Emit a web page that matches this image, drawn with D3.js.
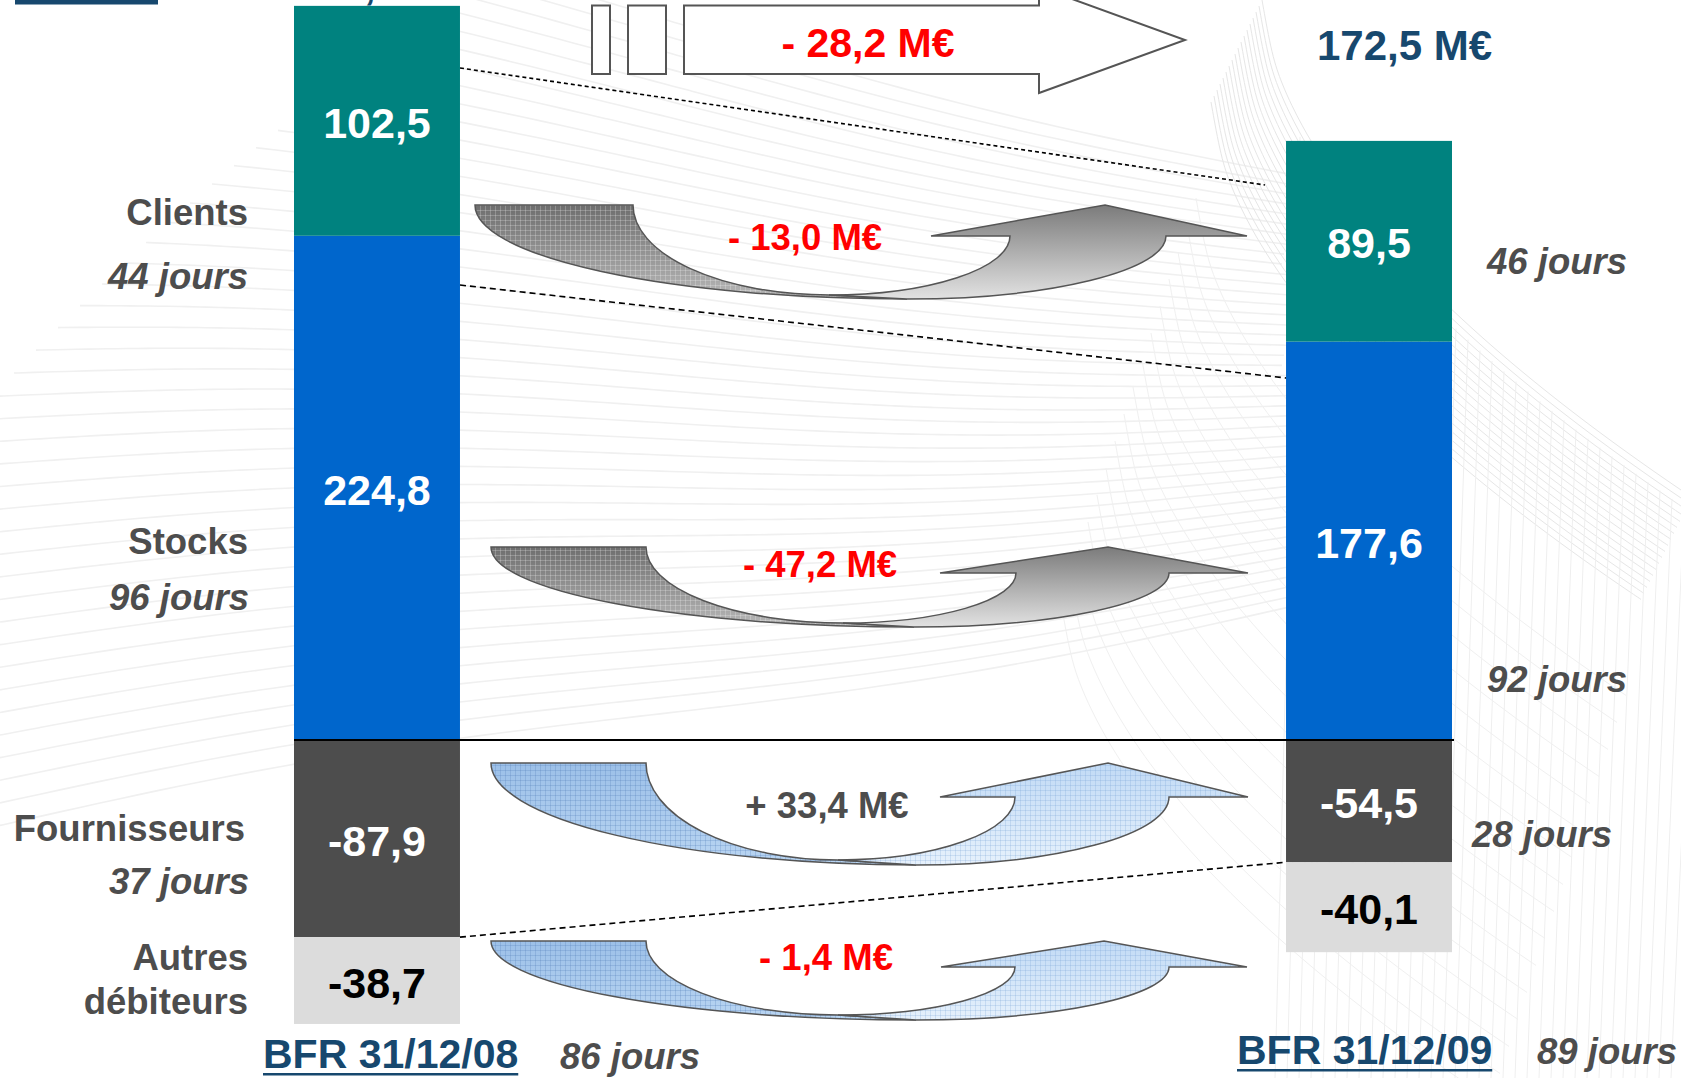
<!DOCTYPE html>
<html>
<head>
<meta charset="utf-8">
<script src="https://cdn.jsdelivr.net/npm/d3@7"></script>
<style>
  body { margin: 0; background: #fff; }
  svg { display: block; font-family: "Liberation Sans", Arial, Helvetica, sans-serif; font-weight: bold; }
</style>
</head>
<body>
<script>
// ---- data ----
const periods = ["31/12/08", "31/12/09"];
const categories = ["Clients", "Stocks", "Fournisseurs", "Autres débiteurs"];
const values08 = [102.5, 224.8, -87.9, -38.7];
const values09 = [89.5, 177.6, -54.5, -40.1];
const days08 = ["44 jours", "96 jours", "37 jours", null];
const days09 = ["46 jours", "92 jours", "28 jours", null];
const deltaLabels = ["- 13,0 M€", "- 47,2 M€", "+ 33,4 M€", "- 1,4 M€"];
const totals = [200.7, 172.5];
const totalDays = ["86 jours", "89 jours"];
const totalDelta = "- 28,2 M€";

const colors = { "Clients": "#00827f", "Stocks": "#0066cc", "Fournisseurs": "#4d4d4d", "Autres débiteurs": "#dcdcdc" };
const labelColors = { "Clients": "#fff", "Stocks": "#fff", "Fournisseurs": "#fff", "Autres débiteurs": "#000" };
const navy = "#17486e", grayText = "#4d4d4d", red = "#ff0000";

const fr = d3.formatLocale({ decimal: ",", thousands: " ", grouping: [3], currency: ["", " M€"], minus: "-" });
const fmt = fr.format(".1f");

const W = 1681, H = 1078;
const svg = d3.select("body").append("svg").attr("width", W).attr("height", H);
const defs = svg.append("defs");

// ---- scales ----
const x = d3.scaleBand().domain(periods).range([294, 1452]).paddingInner(0.8327).paddingOuter(0);
const y = d3.scaleLinear().domain([0, 100]).range([740, 515.7]);

const rows = periods.map((p, i) => {
  const r = { period: p };
  categories.forEach((c, j) => r[c] = (i === 0 ? values08 : values09)[j]);
  return r;
});
const stackKeys = ["Stocks", "Clients", "Fournisseurs", "Autres débiteurs"];
const series = d3.stack().keys(stackKeys).offset(d3.stackOffsetDiverging)(rows);

// ---- background swoosh ----
const bg = svg.append("g").attr("fill", "none");
const line = d3.line().curve(d3.curveBasis);
const fanN = 44;
for (let i = 0; i < fanN; i++) {
  const yL = -150 + i * (980 / (fanN - 1));
  const yR = 180 + i * (420 / (fanN - 1));
  const xs = Math.max(0, 520 - i * 22);
  const pts = d3.range(xs, 1301, 20).map(px => {
    const t = (px + 20) / 1340;
    return [px, yL + (yR - yL) * t - 12 * Math.sin(Math.PI * t * 2)];
  });
  bg.append("path").attr("d", line(pts)).attr("stroke", "#f0f0f0").attr("stroke-width", 1.6);
}
const bnd = px => px <= 1262 ? 0 : 490 * Math.pow((px - 1262) / 419, 0.58);
for (let j = 0; j < 18; j++) {
  const pts = d3.range(1262, 1700, 10).map(px => [px - 3 * j, bnd(px) + 6 * j]);
  bg.append("path").attr("d", line(pts)).attr("stroke", "#e6e6e6").attr("stroke-width", 1);
}
for (let j = 22; j < 70; j += 3) {
  const pts = d3.range(1262, 1700, 10).map(px => [px - 3 * j, bnd(px) + 9 * j]);
  bg.append("path").attr("d", line(pts)).attr("stroke", "#f0f0f0").attr("stroke-width", 1);
}
for (let px = 1300; px < 1700; px += 12) {
  bg.append("path").attr("d", `M${px},${bnd(px) + 15} L${px - 25},${H}`).attr("stroke", "#efefef").attr("stroke-width", 1);
}

// ---- top-left decoration & hidden total ----
svg.append("rect").attr("x", 15).attr("y", 0).attr("width", 143).attr("height", 4.5).attr("fill", navy);
svg.append("text").attr("x", x(periods[0])).attr("y", -1.5).attr("font-size", 42).attr("fill", navy)
  .text(fmt(totals[0]) + " M€");

// ---- gradients & patterns for curved arrows ----
function vGrad(id, c0, c1) {
  const g = defs.append("linearGradient").attr("id", id).attr("x1", 0).attr("y1", 0).attr("x2", 0).attr("y2", 1);
  g.append("stop").attr("offset", "0%").attr("stop-color", c0);
  g.append("stop").attr("offset", "100%").attr("stop-color", c1);
}
function grid(id, color) {
  const p = defs.append("pattern").attr("id", id).attr("width", 5).attr("height", 5).attr("patternUnits", "userSpaceOnUse");
  p.append("path").attr("d", "M0,0.5H5M0.5,0V5").attr("stroke", color).attr("stroke-width", 1).attr("fill", "none");
}
vGrad("gL", "#6e6e6e", "#b8b8b8");
vGrad("gR", "#7b7b7b", "#e2e2e2");
vGrad("bL", "#9cc0e8", "#b9d5f2");
vGrad("bR", "#c1daf5", "#e6f1fc");
grid("gridG", "rgba(255,255,255,0.22)");
grid("gridB", "rgba(80,125,185,0.25)");
grid("gridB2", "rgba(110,155,210,0.22)");

const arrowStyles = {
  gray: { left: "url(#gL)", right: "url(#gR)", gridL: "url(#gridG)", gridR: null },
  blue: { left: "url(#bL)", right: "url(#bR)", gridL: "url(#gridB)", gridR: "url(#gridB2)" }
};
const arrows = [
  { style: "gray", ax: 475, cx: 633, top: 205, dx: 829, dBot: 295, bx: 907, bottom: 299, neck: 236, fx: 931, ex: 1010, gx: 1105, ix: 1166, hx: 1247 },
  { style: "gray", ax: 491, cx: 646, top: 547, dx: 843, dBot: 623, bx: 914, bottom: 627, neck: 573, fx: 940, ex: 1016, gx: 1108, ix: 1169, hx: 1248 },
  { style: "blue", ax: 491, cx: 646, top: 763, dx: 838, dBot: 860, bx: 916, bottom: 865, neck: 797, fx: 940, ex: 1015, gx: 1108, ix: 1169, hx: 1248 },
  { style: "blue", ax: 491, cx: 646, top: 941, dx: 838, dBot: 1015, bx: 916, bottom: 1020, neck: 967, fx: 941, ex: 1015, gx: 1104, ix: 1169, hx: 1247 }
];
function leftBand(a) {
  return `M${a.ax},${a.top} L${a.cx},${a.top} A${a.dx - a.cx},${a.dBot - a.top} 0 0 0 ${a.dx},${a.dBot} ` +
    `L${a.bx},${a.bottom} A${a.bx - a.ax},${a.bottom - a.top} 0 0 1 ${a.ax},${a.top} Z`;
}
function rightBand(a) {
  return `M${a.dx},${a.dBot} A${a.ex - a.dx},${a.dBot - a.neck} 0 0 0 ${a.ex},${a.neck} L${a.fx},${a.neck} ` +
    `L${a.gx},${a.top} L${a.hx},${a.neck} L${a.ix},${a.neck} A${a.ix - a.bx},${a.bottom - a.neck} 0 0 1 ${a.bx},${a.bottom} Z`;
}
const ag = svg.append("g");
arrows.forEach(a => {
  const st = arrowStyles[a.style];
  ag.append("path").attr("d", leftBand(a)).attr("fill", st.left);
  ag.append("path").attr("d", leftBand(a)).attr("fill", st.gridL).attr("stroke", "#555").attr("stroke-width", 1.5);
  ag.append("path").attr("d", rightBand(a)).attr("fill", st.right);
  if (st.gridR) ag.append("path").attr("d", rightBand(a)).attr("fill", st.gridR);
  ag.append("path").attr("d", rightBand(a)).attr("fill", "none").attr("stroke", "#555").attr("stroke-width", 1.5);
});

// ---- top outline arrow ----
const bigArrow = svg.append("g").attr("fill", "#fff").attr("stroke", "#555").attr("stroke-width", 2);
bigArrow.append("rect").attr("x", 592).attr("y", 5.5).attr("width", 18).attr("height", 68.5);
bigArrow.append("rect").attr("x", 628).attr("y", 5.5).attr("width", 38).attr("height", 68.5);
bigArrow.append("path").attr("d", "M684,5.5 L1039,5.5 L1039,-13 L1185,40 L1039,93 L1039,74 L684,74 Z");

// ---- dashed connectors ----
const dash = svg.append("g").attr("stroke", "#000").attr("stroke-width", 1.6).attr("fill", "none");
dash.append("line").attr("x1", 460).attr("y1", 68).attr("x2", 1265).attr("y2", 185).attr("stroke-dasharray", "4,3");
dash.append("line").attr("x1", 460).attr("y1", 285).attr("x2", x(periods[1])).attr("y2", 378).attr("stroke-dasharray", "6,4");
const four = series.find(s => s.key === "Fournisseurs");
dash.append("line")
  .attr("x1", x(periods[0]) + x.bandwidth()).attr("y1", y(four[0][0]))
  .attr("x2", x(periods[1])).attr("y2", y(four[1][0]))
  .attr("stroke-dasharray", "6,4");

// ---- bars ----
const barG = svg.append("g");
series.forEach(s => {
  barG.selectAll(null).data(s).join("rect")
    .attr("x", d => x(d.data.period))
    .attr("width", x.bandwidth())
    .attr("y", d => y(Math.max(d[0], d[1])))
    .attr("height", d => Math.abs(y(d[0]) - y(d[1])))
    .attr("fill", colors[s.key]);
  barG.selectAll(null).data(s).join("text")
    .attr("x", d => x(d.data.period) + x.bandwidth() / 2)
    .attr("y", d => (y(d[0]) + y(d[1])) / 2 + 17)
    .attr("text-anchor", "middle")
    .attr("font-size", 43)
    .attr("fill", labelColors[s.key])
    .text(d => fmt(d.data[s.key]));
});
svg.append("line").attr("x1", x(periods[0])).attr("x2", x(periods[1]) + x.bandwidth() + 2)
  .attr("y1", y(0)).attr("y2", y(0)).attr("stroke", "#000").attr("stroke-width", 2);

// ---- category labels (left) ----
const catLabel = [
  { x: 248, ys: [225], dayX: 248, dayY: 289 },
  { x: 248, ys: [554], dayX: 249, dayY: 610 },
  { x: 245, ys: [841], dayX: 249, dayY: 894 },
  { x: 248, ys: [970, 1014] }
];
categories.forEach((c, i) => {
  const L = catLabel[i];
  c.split(" ").forEach((w, k) => {
    svg.append("text").attr("x", L.x).attr("y", L.ys[k]).attr("text-anchor", "end")
      .attr("font-size", 36.5).attr("fill", grayText).text(w);
  });
  if (days08[i]) {
    svg.append("text").attr("x", L.dayX).attr("y", L.dayY).attr("text-anchor", "end")
      .attr("font-size", 36.5).attr("font-style", "italic").attr("fill", grayText).text(days08[i]);
  }
});

// ---- days (right) ----
const rightDays = [{ x: 1487, y: 274 }, { x: 1487, y: 692 }, { x: 1472, y: 847 }];
days09.forEach((d, i) => {
  if (!d) return;
  svg.append("text").attr("x", rightDays[i].x).attr("y", rightDays[i].y)
    .attr("font-size", 36.5).attr("font-style", "italic").attr("fill", grayText).text(d);
});

// ---- delta labels ----
const deltaPos = [{ x: 805, y: 250 }, { x: 820, y: 577 }, { x: 827, y: 818 }, { x: 826, y: 970 }];
deltaLabels.forEach((t, i) => {
  svg.append("text").attr("x", deltaPos[i].x).attr("y", deltaPos[i].y).attr("text-anchor", "middle")
    .attr("font-size", 36.5).attr("fill", t.startsWith("-") ? red : grayText).text(t);
});
svg.append("text").attr("x", 868).attr("y", 57).attr("text-anchor", "middle")
  .attr("font-size", 41).attr("fill", red).text(totalDelta);
svg.append("text").attr("x", 1317).attr("y", 60).attr("font-size", 42).attr("fill", navy)
  .text(fmt(totals[1]) + " M€");

// ---- bottom titles ----
const titlePos = [{ x: 263, y: 1068, dx: 560, dy: 1069 }, { x: 1237, y: 1064, dx: 1537, dy: 1064 }];
periods.forEach((p, i) => {
  const T = titlePos[i];
  const t = svg.append("text").attr("x", T.x).attr("y", T.y).attr("font-size", 41).attr("fill", navy).text("BFR " + p);
  const w = t.node().getComputedTextLength();
  svg.append("rect").attr("x", T.x).attr("y", T.y + 5).attr("width", w).attr("height", 2.5).attr("fill", navy);
  svg.append("text").attr("x", T.dx).attr("y", T.dy).attr("font-size", 36.5).attr("font-style", "italic")
    .attr("fill", grayText).text(totalDays[i]);
});
</script>
</body>
</html>
